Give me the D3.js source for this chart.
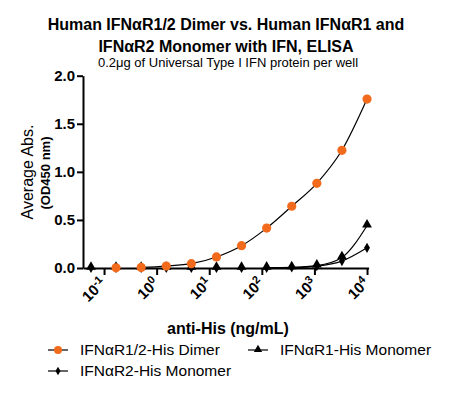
<!DOCTYPE html>
<html>
<head>
<meta charset="utf-8">
<script src="https://cdn.jsdelivr.net/npm/d3@7"></script>
<style>
	body { margin: 0; background: #fff; }
	text { font-family: 'Liberation Sans', Arial, sans-serif; }
</style>
</head>
<body>
<script>
'use strict';

// concentrations (ng/mL), 3-fold dilutions
var conc = [10000, 3333, 1111, 370.4, 123.5, 41.15, 13.72, 4.572, 1.524, 0.508, 0.169, 0.0565],

// OD450 readings per series, same order as conc
dimer = [1.757, 1.224, 0.881, 0.642, 0.415, 0.232, 0.115, 0.045, 0.02, 0.006, 0.002],
r1 = [0.44, 0.11, 0.025, 0.006, 0.002, 0.001, 0, 0, 0, 0, 0, 0],
r2 = [0.21, 0.072, 0.02, 0.005, 0.002, 0.001, 0, 0, 0, 0, 0, 0],

yTicks = [0, 0.5, 1.0, 1.5, 2.0],
xTickExp = [-1, 0, 1, 2, 3, 4],

seriesNames = ['IFN\u03b1R1/2-His Dimer', 'IFN\u03b1R1-His Monomer', 'IFN\u03b1R2-His Monomer'],
orange = '#f26b1d',

width = 449, height = 393;

var svg = d3.select('body').append('svg')
	.attr('width', width)
	.attr('height', height);

var x = d3.scaleLog()
	.domain([Math.pow(10, -1.4), Math.pow(10, 4.03)])
	.range([83, 368.6]);

var y = d3.scaleLinear()
	.domain([0, 2])
	.range([268, 75.7]);

// titles
svg.append('text')
	.attr('x', 226).attr('y', 30)
	.attr('text-anchor', 'middle')
	.style('font-size', '16px').style('font-weight', 'bold')
	.text('Human IFN\u03b1R1/2 Dimer vs. Human IFN\u03b1R1 and');
svg.append('text')
	.attr('x', 226).attr('y', 52)
	.attr('text-anchor', 'middle')
	.style('font-size', '16px').style('font-weight', 'bold')
	.text('IFN\u03b1R2 Monomer with IFN, ELISA');
svg.append('text')
	.attr('x', 228).attr('y', 67)
	.attr('text-anchor', 'middle')
	.style('font-size', '13px')
	.text('0.2\u03bcg of Universal Type I IFN protein per well');

// y axis
var yAxis = svg.append('g')
	.attr('transform', 'translate(83,0)')
	.call(d3.axisLeft(y).tickValues(yTicks).tickFormat(d3.format('.1f')).tickSize(6).tickSizeOuter(0));
yAxis.select('.domain').attr('stroke-width', 2);
yAxis.selectAll('.tick line').attr('stroke-width', 2);
yAxis.selectAll('.tick text')
	.attr('x', -8)
	.style('font-size', '15px').style('font-weight', 'bold')
	.attr('fill', '#000');

// x axis
var xAxis = svg.append('g')
	.attr('transform', 'translate(0,268)')
	.call(d3.axisBottom(x)
		.tickValues(xTickExp.map(function(e) { return Math.pow(10, e); }))
		.tickFormat('').tickSize(7).tickSizeOuter(0));
xAxis.select('.domain').attr('stroke-width', 2);
xAxis.selectAll('.tick line').attr('stroke-width', 2);

// rotated tick labels with superscripts
xTickExp.forEach(function(e) {
	var px = x(Math.pow(10, e));
	var t = svg.append('text')
		.attr('transform', 'translate(' + (px + 3) + ',284) rotate(-45)')
		.attr('text-anchor', 'end')
		.style('font-size', '15px').style('font-weight', 'bold');
	t.append('tspan').text('10');
	t.append('tspan')
		.attr('dy', '-0.5em')
		.style('font-size', '11px')
		.text(e === -1 ? '-1' : String(e));
});

// axis titles
svg.append('text')
	.attr('transform', 'translate(33,172) rotate(-90)')
	.attr('text-anchor', 'middle')
	.style('font-size', '16px')
	.text('Average Abs.');
svg.append('text')
	.attr('transform', 'translate(50,173) rotate(-90)')
	.attr('text-anchor', 'middle')
	.style('font-size', '13px').style('font-weight', 'bold')
	.text('(OD450 nm)');
svg.append('text')
	.attr('x', 228).attr('y', 334)
	.attr('text-anchor', 'middle')
	.style('font-size', '16px').style('font-weight', 'bold')
	.text('anti-His (ng/mL)');

// fitted curves (smooth through the points, upper part)
var line = d3.line()
	.curve(d3.curveMonotoneX)
	.x(function(d) { return x(d.c); })
	.y(function(d) { return y(d.v); });

function pts(vals, n) {
	return vals.slice(0, n).map(function(v, i) { return {c: conc[i], v: v}; }).reverse();
}

[[dimer, 10], [r1, 5], [r2, 5]].forEach(function(s) {
	svg.append('path')
		.datum(pts(s[0], s[1]))
		.attr('fill', 'none')
		.attr('stroke', '#000')
		.attr('stroke-width', 1.2)
		.attr('d', line);
});

var tri = d3.symbol().type(d3.symbolTriangle).size(42),
	dia = d3.symbol().type(d3.symbolDiamond).size(30);

// diamonds (R2)
svg.selectAll('.r2')
	.data(r2).enter()
	.append('path')
		.attr('class', 'r2')
		.attr('transform', function(d, i) { return 'translate(' + x(conc[i]) + ',' + y(d) + ')'; })
		.attr('d', dia)
		.attr('fill', '#000');

// triangles (R1)
svg.selectAll('.r1')
	.data(r1).enter()
	.append('path')
		.attr('class', 'r1')
		.attr('transform', function(d, i) { return 'translate(' + x(conc[i]) + ',' + (y(d) - 1) + ')'; })
		.attr('d', tri)
		.attr('fill', '#000');

// circles (dimer)
svg.selectAll('.dimer')
	.data(dimer).enter()
	.append('circle')
		.attr('class', 'dimer')
		.attr('cx', function(d, i) { return x(conc[i]); })
		.attr('cy', function(d) { return y(d); })
		.attr('r', 4.6)
		.attr('fill', orange);

// legend
var legendItems = [
	{name: seriesNames[0], x: 48, y: 350, kind: 'circle'},
	{name: seriesNames[1], x: 248, y: 350, kind: 'tri'},
	{name: seriesNames[2], x: 48, y: 371, kind: 'dia'}
];

var legend = svg.selectAll('.legend')
	.data(legendItems).enter()
	.append('g')
		.attr('class', 'legend')
		.attr('transform', function(d) { return 'translate(' + d.x + ',' + d.y + ')'; });

legend.append('line')
	.attr('x1', 0).attr('x2', 20)
	.attr('stroke', '#000').attr('stroke-width', 1.2);

legend.each(function(d) {
	var g = d3.select(this);
	if (d.kind === 'circle') {
		g.append('circle').attr('cx', 10).attr('r', 4).attr('fill', orange);
	} else {
		g.append('path')
			.attr('transform', 'translate(10,' + (d.kind === 'tri' ? -0.5 : 0) + ')')
			.attr('d', d.kind === 'tri' ? d3.symbol().type(d3.symbolTriangle).size(30) : d3.symbol().type(d3.symbolDiamond).size(22))
			.attr('fill', '#000');
	}
});

legend.append('text')
	.attr('x', 32)
	.attr('dy', '0.35em')
	.style('font-size', '15.5px')
	.text(function(d) { return d.name; });
</script>
</body>
</html>
